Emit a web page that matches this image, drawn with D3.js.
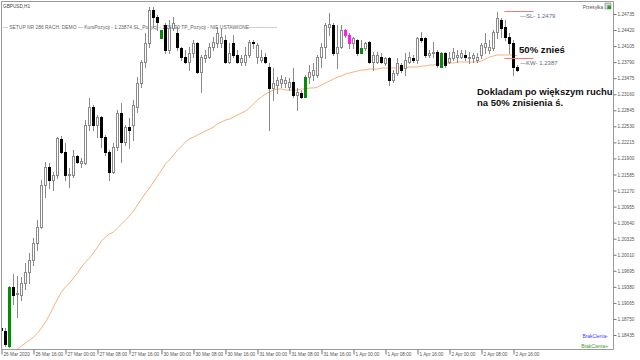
<!DOCTYPE html>
<html><head><meta charset="utf-8">
<script src="https://cdn.jsdelivr.net/npm/d3@7"></script>
<style>html,body{margin:0;padding:0;background:#fff;}svg{display:block;}</style>
</head><body>
<svg id="c" width="640" height="360"></svg>
<script>
// ---- DATA ----
const open = [
1.18572,1.18513,1.18219,1.19377,1.19240,1.19220,1.19456,1.19671,1.19907,1.20240,
1.20554,1.21378,1.21731,1.21476,1.21574,1.22281,1.22026,1.21574,1.21574,1.21947,
1.21810,1.21810,1.22556,1.22909,1.22556,1.22713,1.22320,1.22026,1.21633,1.22124,
1.22792,1.22222,1.22517,1.22556,1.22909,1.23381,1.23793,1.24166,1.24814,1.24676,
1.24264,1.24519,1.24029,1.24460,1.24362,1.24068,1.23891,1.23793,1.23970,1.24166,
1.23597,1.23872,1.23891,1.24088,1.24166,1.24166,1.24225,1.23793,1.24166,1.23931,
1.23793,1.23793,1.23931,1.24186,1.23891,1.23832,1.23891,1.23695,1.23283,1.23341,
1.23381,1.23381,1.23302,1.23400,1.23145,1.23185,1.23106,1.23499,1.23538,1.23538,
1.23891,1.24088,1.24480,1.24519,1.23970,1.24088,1.24421,1.24323,1.24166,1.24225,
1.23970,1.24068,1.24186,1.23793,1.23793,1.23891,1.23773,1.23872,1.23440,1.23577,
1.23734,1.23675,1.23793,1.23872,1.23832,1.24264,1.24264,1.23931,1.23970,1.23989,
1.23695,1.23970,1.23793,1.23872,1.23891,1.23891,1.23931,1.23872,1.23872,1.23832,
1.23931,1.24088,1.24029,1.24068,1.24382,1.24617,1.24480,1.24284,1.24166,1.23695];
const high = [
1.18611,1.18572,1.19397,1.19632,1.19593,1.19573,1.19848,1.20044,1.20338,1.20692,
1.21476,1.21829,1.21810,1.21633,1.22320,1.22340,1.22203,1.21712,1.22065,1.21967,
1.21908,1.22654,1.23086,1.22949,1.22753,1.22733,1.22360,1.22065,1.22203,1.22850,
1.22988,1.22556,1.22694,1.23047,1.23499,1.23832,1.24362,1.24873,1.24873,1.24716,
1.24421,1.24559,1.24617,1.24676,1.24480,1.24088,1.24029,1.24088,1.24225,1.24186,
1.23931,1.24029,1.24166,1.24284,1.24480,1.24460,1.24323,1.24166,1.24323,1.24029,
1.23931,1.24088,1.24225,1.24225,1.24166,1.24029,1.23970,1.23773,1.23675,1.23499,
1.23538,1.23499,1.23479,1.23675,1.23283,1.23243,1.23538,1.23734,1.23773,1.23931,
1.24166,1.24559,1.24755,1.24559,1.24519,1.24519,1.24441,1.24362,1.24284,1.24245,
1.24225,1.24186,1.24205,1.23989,1.23989,1.23970,1.23891,1.23891,1.23636,1.23872,
1.23773,1.23970,1.23989,1.23931,1.24284,1.24382,1.24284,1.24029,1.24186,1.24029,
1.23989,1.23989,1.23989,1.24068,1.24029,1.24029,1.24029,1.23989,1.23970,1.23970,
1.24166,1.24362,1.24225,1.24421,1.24774,1.24657,1.24617,1.24362,1.24225,1.23734];
const low = [
1.18513,1.18219,1.18199,1.19043,1.18788,1.19122,1.19338,1.19456,1.19809,1.20103,
1.20535,1.21143,1.21319,1.21280,1.21515,1.22006,1.21476,1.21339,1.21535,1.21810,
1.21731,1.21790,1.22458,1.22458,1.22320,1.22124,1.21967,1.21476,1.21613,1.22065,
1.21829,1.22163,1.22105,1.22262,1.22811,1.23302,1.23695,1.24088,1.24480,1.24421,
1.24264,1.23970,1.23970,1.24421,1.24029,1.23832,1.23773,1.23636,1.23891,1.23577,
1.23204,1.23793,1.23872,1.24029,1.24088,1.24088,1.23773,1.23773,1.23891,1.23773,
1.23734,1.23734,1.23891,1.24068,1.23773,1.23793,1.23773,1.22458,1.23047,1.23185,
1.23302,1.23302,1.23243,1.23106,1.22850,1.23086,1.23106,1.23381,1.23440,1.23499,
1.23695,1.23872,1.24323,1.23931,1.23675,1.24068,1.24284,1.24068,1.24068,1.23931,
1.23970,1.24029,1.23773,1.23636,1.23773,1.23773,1.23734,1.23341,1.23400,1.23538,
1.23597,1.23538,1.23773,1.23793,1.23773,1.24186,1.23891,1.23891,1.23891,1.23695,
1.23695,1.23695,1.23773,1.23832,1.23793,1.23872,1.23832,1.23773,1.23793,1.23793,
1.23872,1.23970,1.23970,1.24029,1.24264,1.24284,1.24225,1.23970,1.23538,1.23616];
const close = [
1.18533,1.18258,1.19377,1.19220,1.19259,1.19456,1.19671,1.19907,1.20240,1.20554,
1.21378,1.21731,1.21476,1.21574,1.22301,1.22026,1.21574,1.21594,1.21947,1.21829,
1.21849,1.22556,1.22909,1.22556,1.22713,1.22320,1.22026,1.21633,1.22124,1.22792,
1.22222,1.22517,1.22458,1.22949,1.23381,1.23793,1.24166,1.24814,1.24676,1.24578,
1.24421,1.24029,1.24460,1.24559,1.24088,1.23891,1.23793,1.23970,1.24166,1.23597,
1.23891,1.23931,1.24088,1.24186,1.24362,1.24284,1.23793,1.23970,1.23931,1.23793,
1.23872,1.23931,1.24186,1.24166,1.24127,1.23891,1.23793,1.23283,1.23381,1.23440,
1.23459,1.23440,1.23400,1.23145,1.23204,1.23106,1.23499,1.23597,1.23636,1.23891,
1.24088,1.24519,1.24539,1.23970,1.24088,1.24421,1.24323,1.24166,1.24264,1.23970,
1.24068,1.24166,1.23793,1.23931,1.23931,1.23793,1.23872,1.23440,1.23577,1.23773,
1.23636,1.23832,1.23891,1.23832,1.24264,1.24225,1.23931,1.23970,1.23989,1.23734,
1.23970,1.23734,1.23872,1.23989,1.23931,1.23970,1.23891,1.23891,1.23931,1.23891,
1.24127,1.24166,1.24088,1.24382,1.24657,1.24460,1.24284,1.24166,1.23695,1.23636];
const maStart = 4;
const maValues = [
1.18160,1.18219,1.18278,1.18337,1.18396,1.18474,1.18572,1.18690,1.18827,1.18984,
1.19141,1.19279,1.19377,1.19456,1.19554,1.19652,1.19770,1.19868,1.19946,1.20044,
1.20162,1.20280,1.20358,1.20417,1.20456,1.20535,1.20613,1.20692,1.20770,1.20869,
1.20986,1.21104,1.21222,1.21319,1.21437,1.21555,1.21672,1.21790,1.21869,1.21967,
1.22065,1.22144,1.22222,1.22281,1.22320,1.22360,1.22399,1.22438,1.22477,1.22517,
1.22576,1.22615,1.22654,1.22674,1.22713,1.22753,1.22792,1.22831,1.22890,1.22969,
1.23047,1.23106,1.23165,1.23204,1.23243,1.23263,1.23263,1.23243,1.23243,1.23243,
1.23243,1.23263,1.23263,1.23283,1.23283,1.23302,1.23341,1.23381,1.23420,1.23459,
1.23499,1.23518,1.23557,1.23577,1.23597,1.23616,1.23636,1.23636,1.23656,1.23656,
1.23656,1.23675,1.23675,1.23675,1.23675,1.23675,1.23675,1.23675,1.23695,1.23695,
1.23695,1.23714,1.23714,1.23734,1.23734,1.23754,1.23754,1.23773,1.23773,1.23773,
1.23793,1.23793,1.23793,1.23793,1.23793,1.23793,1.23813,1.23852,1.23891,1.23911,
1.23931,1.23931,1.23931,1.23931,1.23931,1.23911];
const greenBars = [2, 40, 76, 90, 110];
const magentaBars = [86, 87];
const priceTicks = [1.24735,1.24420,1.24105,1.23790,1.23475,1.23160,1.22845,1.22530,1.22215,1.21900,
  1.21585,1.21270,1.20955,1.20640,1.20325,1.20010,1.19695,1.19380,1.19065,1.18750,1.18435];
const timeLabelBars = [0,8,16,24,32,40,48,56,64,72,80,88,96,104,112,120,128];
const timeLabels = ["26 Mar 2020","26 Mar 16:00","27 Mar 00:00","27 Mar 08:00","27 Mar 16:00",
  "30 Mar 00:00","30 Mar 08:00","30 Mar 16:00","31 Mar 00:00","31 Mar 08:00","31 Mar 16:00",
  "1 Apr 00:00","1 Apr 08:00","1 Apr 16:00","2 Apr 00:00","2 Apr 08:00","2 Apr 16:00"];
const levelNames = ["SL", "KW"];
const levelValues = [1.2479, 1.2387];
const symbolTitle = "GBPUSD,H1";
const setupText = "--- SETUP NR 286 RACH. DEMO --- KursPozycji - 1.23874 SL_Pozycji - 1.24790 TP_Pozycji - NIE USTAWIONE-----------------";

// ---- CHART ----
const svg = d3.select("#c");
const W = 640, H = 360;
const plotL = 1, plotT = 1, plotR = 613, plotB = 349;
const FONT = "'Liberation Sans', Arial, sans-serif";

const x = d3.scaleLinear().domain([0, 150]).range([1.5, 601.5]);
const y = d3.scaleLinear().domain([1.18435, 1.24735]).range([335, 14]);

svg.append("rect").attr("width", W).attr("height", H).attr("fill", "#fff");

svg.append("defs").append("clipPath").attr("id", "plot")
  .append("rect").attr("x", plotL).attr("y", plotT).attr("width", plotR - plotL).attr("height", plotB - plotT);

const g = svg.append("g").attr("clip-path", "url(#plot)");

// setup text (behind candles)
g.append("text").attr("x", 3).attr("y", 28.5)
  .attr("font-family", FONT).attr("font-size", 4.7).attr("fill", "#666")
  .attr("textLength", 274).attr("lengthAdjust", "spacingAndGlyphs")
  .text(setupText);

// moving average
const maData = maValues.map((v, k) => ({i: maStart + k, v}));
g.append("path").datum(maData)
  .attr("fill", "none").attr("stroke", "#f9b07c").attr("stroke-width", 1)
  .attr("d", d3.line().x(d => x(d.i)).y(d => y(d.v)));

// candles
const candles = open.map((o, i) => ({i, o, h: high[i], l: low[i], c: close[i]}));
const cg = g.append("g");
candles.forEach(d => {
  const cx = x(d.i);
  const yh = Math.round(y(d.h)), yl = Math.round(y(d.l));
  cg.append("line").attr("x1", cx).attr("x2", cx).attr("y1", yh).attr("y2", yl + 1)
    .attr("stroke", "#8a8a8a").attr("stroke-width", 1);
  const top = Math.round(y(Math.max(d.o, d.c)));
  const bot = Math.round(y(Math.min(d.o, d.c)));
  let col = null;
  if (greenBars.includes(d.i)) col = "#0a8a0a";
  else if (magentaBars.includes(d.i)) col = "#ff1aff";
  if (col) {
    cg.append("rect").attr("x", cx - 1.5).attr("y", top).attr("width", 3).attr("height", Math.max(1, bot - top + 1)).attr("fill", col);
  } else if (d.c >= d.o) {
    cg.append("rect").attr("x", cx - 1).attr("y", top + 0.5).attr("width", 2).attr("height", Math.max(0, bot - top))
      .attr("fill", "#fff").attr("stroke", "#8a8a8a").attr("stroke-width", 1);
  } else {
    cg.append("rect").attr("x", cx - 1.5).attr("y", top).attr("width", 3).attr("height", Math.max(1, bot - top + 1)).attr("fill", "#000");
  }
});

// SL / KW levels
levelNames.forEach((n, k) => {
  const ly = Math.round(y(levelValues[k])) + 0.5;
  g.append("line").attr("x1", x(126) - 1).attr("x2", x(133)).attr("y1", ly).attr("y2", ly)
    .attr("stroke", "#f07a7a").attr("stroke-width", 1);
  g.append("text").attr("x", 520).attr("y", ly + 6)
    .attr("font-family", FONT).attr("font-size", 6).attr("fill", "#5c6b86")
    .text("\u2014" + n + "- " + levelValues[k].toFixed(4));
});

// frame
svg.append("path").attr("d", `M${plotL+0.5},${plotB+0.5}V${plotT+0.5}H${plotR+0.5}V${plotB+0.5}H${plotL+0.5}`)
  .attr("fill", "none").attr("stroke", "#9a9a9a").attr("stroke-width", 1);

// y axis
const ya = svg.append("g").attr("transform", `translate(${plotR + 0.5},0)`)
  .call(d3.axisRight(y).tickValues(priceTicks).tickSize(3).tickPadding(1).tickFormat(d3.format(".5f")));
ya.select(".domain").remove();
ya.selectAll(".tick line").attr("stroke", "#777");
ya.selectAll(".tick text").attr("font-family", FONT).attr("font-size", 4.7).attr("fill", "#555");

// x axis
const xa = svg.append("g").attr("transform", `translate(0,${plotB + 0.5})`)
  .call(d3.axisBottom(x).tickValues(timeLabelBars).tickSize(5).tickFormat((d, k) => timeLabels[k]));
xa.select(".domain").remove();
xa.selectAll(".tick line").attr("stroke", "#777");
xa.selectAll(".tick text").attr("font-family", FONT).attr("font-size", 4.7).attr("fill", "#555")
  .attr("text-anchor", "start").attr("x", 1.5).attr("y", 6.5).attr("dy", 0);

// titles and annotations
svg.append("text").attr("x", 3).attr("y", 7.5).attr("font-family", FONT).attr("font-size", 4.7).attr("fill", "#444").text(symbolTitle);
svg.append("text").attr("x", 603).attr("y", 8.5).attr("text-anchor", "end").attr("font-family", FONT).attr("font-size", 4.7).attr("fill", "#555").text("Przesyłka");
svg.append("rect").attr("x", 605).attr("y", 3).attr("width", 6).attr("height", 6).attr("fill", "#cfd8cf").attr("stroke", "#777").attr("stroke-width", 0.5);
svg.append("rect").attr("x", 607.5).attr("y", 5.5).attr("width", 3.5).attr("height", 3.5).attr("fill", "#2a9a2a");

svg.append("text").attr("x", 519).attr("y", 53).attr("font-family", FONT).attr("font-weight", "bold").attr("font-size", 9.6).attr("fill", "#111").text("50% znieś");
svg.append("text").attr("x", 477).attr("y", 95).attr("font-family", FONT).attr("font-weight", "bold").attr("font-size", 9.5).attr("fill", "#111").text("Dokladam po większym ruchu");
svg.append("text").attr("x", 477).attr("y", 106).attr("font-family", FONT).attr("font-weight", "bold").attr("font-size", 9.5).attr("fill", "#111").text("na 50% znisienia ś.");

svg.append("text").attr("x", 608).attr("y", 338).attr("text-anchor", "end").attr("font-family", FONT).attr("font-size", 4.9).attr("fill", "#3b3bff").text("BrakCienia-");
svg.append("text").attr("x", 608).attr("y", 347.5).attr("text-anchor", "end").attr("font-family", FONT).attr("font-size", 4.9).attr("fill", "#3a9a1a").text("BrakCienia+");
</script>
</body></html>
